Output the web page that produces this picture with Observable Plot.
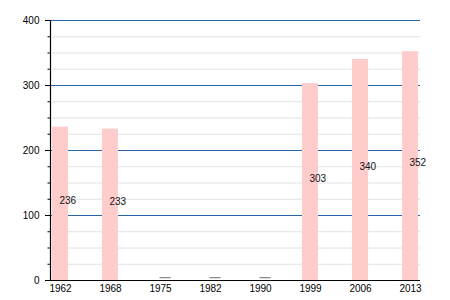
<!DOCTYPE html>
<html><head><meta charset="utf-8">
<script src="https://cdn.jsdelivr.net/npm/d3@7"></script>
<script src="https://cdn.jsdelivr.net/npm/@observablehq/plot@0.6"></script>
<style>body{margin:0;background:#fff;}</style>
</head><body><div id="chart"></div>
<script>
const years = ["1962","1968","1975","1982","1990","1999","2006","2013"];
const values = [236,233,null,null,null,303,340,352];
const majorTicks = [0,100,200,300,400];
const minorTicks = [25,50,75,125,150,175,225,250,275,325,350,375];

const data = years.map((y,i)=>({year:y, value:values[i]}));
const present = data.filter(d=>d.value!=null);
const missing = data.filter(d=>d.value==null);

const chart = Plot.plot({
  width:450, height:300,
  marginLeft:50, marginRight:30, marginTop:20, marginBottom:20,
  style:{fontFamily:"'Liberation Sans', Arial, sans-serif", fontSize:"10px", background:"#fff", color:"#000"},
  x:{domain:years, paddingInner:0.684, paddingOuter:0, label:null},
  y:{domain:[0,400], label:null},
  marks:[
    Plot.ruleY(minorTicks, {stroke:"#e2e2e2", strokeWidth:1}),
    Plot.ruleY([100,200,300,400], {stroke:"#2a66a3", strokeWidth:1}),
    Plot.barY(present, {x:"year", y:"value", fill:"#ffcccc"}),
    Plot.text(present, {x:"year", y:d=>d.value/2, text:d=>String(d.value), textAnchor:"start", dx:-1, dy:-3, fill:"#111", fontSize:10}),
    Plot.text(missing, {x:"year", y:()=>4, text:()=>"—", textAnchor:"start", dx:-1, fill:"#8a8a8a", fontSize:11, fontWeight:"bold"}),
    Plot.axisY({ticks:majorTicks, tickSize:5, tickPadding:6, fontSize:10}),
    Plot.axisY({ticks:minorTicks, tickSize:2.5, tickFormat:()=>""}),
    Plot.axisX({tickSize:0, tickPadding:4, fontSize:10}),
    Plot.ruleY([0], {stroke:"#000", strokeWidth:1.2}),
    Plot.frame({anchor:"left", stroke:"#000", strokeWidth:1.2})
  ]
});
document.getElementById("chart").appendChild(chart);
</script>
</body></html>
